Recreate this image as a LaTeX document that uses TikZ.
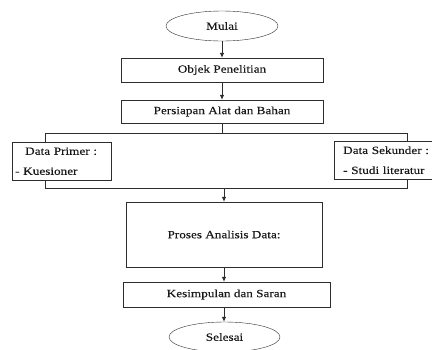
\documentclass[tikz,border=0pt]{standalone}
\usepackage{fontspec}
\setmainfont{Liberation Serif}[FakeStretch=1.2, FakeBold=0.3]
\usepackage{tikz}
\usetikzlibrary{positioning, arrows.meta, shapes.geometric}
\definecolor{garis}{RGB}{45, 45, 45}
\definecolor{tinta}{RGB}{25, 25, 25}
\tikzset{
    ujung/.style={ellipse, draw=garis, text=tinta, inner sep=0pt, minimum width=112pt, minimum height=30pt, font=\fontsize{11}{13}\selectfont},
    kotak/.style={draw, rectangle, draw=garis, text=tinta, inner sep=0pt, font=\fontsize{11}{13}\selectfont},
    sisi/.style={draw, rectangle, draw=garis, text=tinta, anchor=north west, align=left, minimum height=38pt, inner ysep=0pt, font=\fontsize{11}{20}\selectfont},
    conn/.style={-, garis, line width=0.8pt},
    arr/.style={-{Latex[length=5pt, width=4.5pt]}, garis, line width=0.8pt},
}
\begin{document}
\begin{tikzpicture}[x=1pt, y=-1pt]
    \useasboundingbox (0,0) rectangle (432,349);

    \node[ujung] (mulai) at (222,26) {Mulai};
    \node[kotak, minimum width=202pt, minimum height=24pt] (objek) at (222,70) {Objek Penelitian};
    \node[kotak, minimum width=202pt, minimum height=23pt] (persiapan) at (222,111.5) {Persiapan Alat dan Bahan};
    \node[sisi, inner xsep=3pt, text width=93pt] (prim) at (12,142) {\hspace*{10pt}Data Primer :\\- Kuesioner};
    \node[sisi, inner xsep=9pt, text width=91pt] (sek) at (334,141) {Data Sekunder :\\- Studi literatur};
    \node[kotak, minimum width=196pt, minimum height=65pt] (proses) at (224,234.5) {Proses Analisis Data:};
    \node[kotak, minimum width=207pt, minimum height=25pt] (simpul) at (226.5,294.5) {Kesimpulan dan Saran};
    \node[ujung, minimum width=111pt] (selesai) at (224.5,337) {Selesai};

    \coordinate (split) at (222,133);
    \coordinate (splitL) at (45,133);
    \coordinate (splitR) at (407,133);
    \coordinate (joinL) at (45,188);
    \coordinate (joinR) at (407,188);
    \coordinate (join) at (224,188);

    \draw[arr] (mulai.south) -- (objek.north);
    \draw[arr] (objek.south) -- (persiapan.north);
    \draw[conn] (persiapan.south) -- (split);
    \draw[conn] (splitL) -- (splitR);
    \draw[conn] (splitL) -- (splitL |- prim.north);
    \draw[conn] (splitR) -- (splitR |- sek.north);
    \draw[conn] (splitL |- prim.south) -- (joinL) -- (joinR) -- (splitR |- sek.south);
    \draw[arr] (join) -- (proses.north);
    \draw[arr] (proses.south) -- (proses.south |- simpul.north);
    \draw[arr] (proses.south |- simpul.south) -- (proses.south |- selesai.north);
\end{tikzpicture}
\end{document}
